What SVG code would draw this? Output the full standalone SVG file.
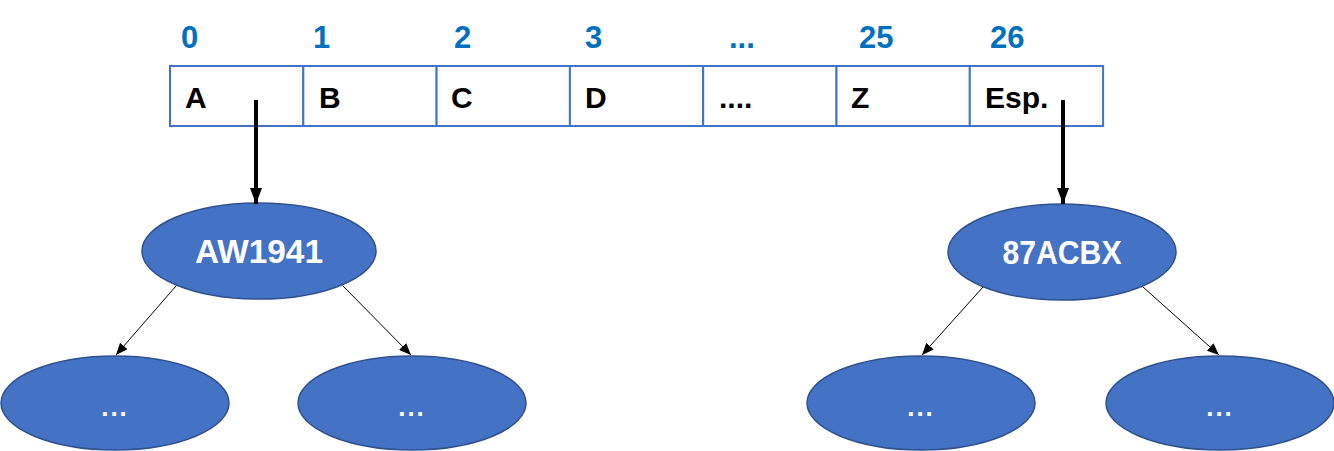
<svg xmlns="http://www.w3.org/2000/svg" width="1334" height="451" viewBox="0 0 1334 451">
<defs>
<style>
.idx{font-family:"Liberation Sans",Arial,sans-serif;font-weight:bold;font-size:31px;fill:#0070C0}
.cell{fill:#fff;stroke:#4472C4;stroke-width:2}
.ct{font-family:"Liberation Sans",Arial,sans-serif;font-weight:bold;font-size:30px;fill:#000}
.node{fill:#4472C4;stroke:#2F528F;stroke-width:1.5}
.nt{font-family:"Liberation Sans",Arial,sans-serif;font-weight:bold;font-size:33px;fill:#fff;text-anchor:middle}
.dt{font-family:"Liberation Sans",Arial,sans-serif;font-weight:bold;font-size:26px;letter-spacing:2px;fill:#fff;text-anchor:middle}
.thick{stroke:#000;stroke-width:4;fill:none}
.thin{stroke:#000;stroke-width:1;fill:none}
</style>
<marker id="big" markerWidth="16" markerHeight="12" refX="16" refY="6" orient="auto" markerUnits="userSpaceOnUse"><path d="M0,0 L16,6 L0,12 Z" fill="#000"/></marker>
<marker id="small" markerWidth="12" markerHeight="10" refX="12" refY="5" orient="auto" markerUnits="userSpaceOnUse"><path d="M0,0 L12,5 L0,10 Z" fill="#000"/></marker>
</defs>
<g id="indices">
<text class="idx" x="181" y="48">0</text>
<text class="idx" x="313" y="48">1</text>
<text class="idx" x="454" y="48">2</text>
<text class="idx" x="585" y="48">3</text>
<text class="idx" x="729" y="48">...</text>
<text class="idx" x="859" y="48">25</text>
<text class="idx" x="990" y="48">26</text>
</g>
<g id="array">
<rect class="cell" x="170" y="66" width="133.3" height="60"/>
<rect class="cell" x="303.3" y="66" width="133.3" height="60"/>
<rect class="cell" x="436.6" y="66" width="133.3" height="60"/>
<rect class="cell" x="569.9" y="66" width="133.3" height="60"/>
<rect class="cell" x="703.2" y="66" width="133.3" height="60"/>
<rect class="cell" x="836.5" y="66" width="133.3" height="60"/>
<rect class="cell" x="969.8" y="66" width="133.3" height="60"/>
<text class="ct" x="185" y="108">A</text>
<text class="ct" x="319" y="108">B</text>
<text class="ct" x="451" y="108">C</text>
<text class="ct" x="585" y="108">D</text>
<text class="ct" x="719" y="108">....</text>
<text class="ct" x="851" y="108">Z</text>
<text class="ct" x="985" y="108">Esp.</text>
</g>
<g id="node-AW1941">
<ellipse class="node" cx="259" cy="251" rx="117" ry="48"/>
<text class="nt" x="259" y="263" textLength="128" lengthAdjust="spacingAndGlyphs">AW1941</text>
</g>
<g id="node-87ACBX">
<ellipse class="node" cx="1062" cy="252" rx="114" ry="48"/>
<text class="nt" x="1062" y="264" textLength="119" lengthAdjust="spacingAndGlyphs">87ACBX</text>
</g>
<g id="node-l1">
<ellipse class="node" cx="115" cy="403" rx="114" ry="47"/>
<text class="dt" x="115" y="416">...</text>
</g>
<g id="node-l2">
<ellipse class="node" cx="412" cy="403" rx="114" ry="47"/>
<text class="dt" x="412" y="416">...</text>
</g>
<g id="node-r1">
<ellipse class="node" cx="921" cy="403" rx="114" ry="47"/>
<text class="dt" x="921" y="416">...</text>
</g>
<g id="node-r2">
<ellipse class="node" cx="1220" cy="403" rx="114" ry="47"/>
<text class="dt" x="1220" y="416">...</text>
</g>
<g id="connectors">
<line class="thick" x1="256" y1="100" x2="256" y2="204" marker-end="url(#big)"/>
<line class="thick" x1="1063" y1="100" x2="1063" y2="204" marker-end="url(#big)"/>
<line class="thin" x1="176" y1="286" x2="116" y2="355" marker-end="url(#small)"/>
<line class="thin" x1="343" y1="286" x2="411" y2="355" marker-end="url(#small)"/>
<line class="thin" x1="983" y1="287" x2="922" y2="355" marker-end="url(#small)"/>
<line class="thin" x1="1143" y1="287" x2="1219" y2="355" marker-end="url(#small)"/>
</g>
</svg>
